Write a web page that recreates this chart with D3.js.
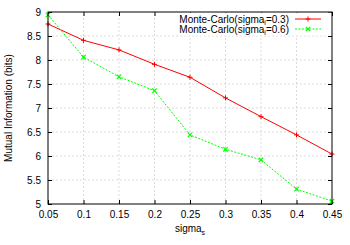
<!DOCTYPE html>
<html>
<head>
<meta charset="utf-8">
<script src="https://cdn.jsdelivr.net/npm/d3@7"></script>
<style>
  body { margin: 0; background: #fff; }
  svg { display: block; }
  text { font-family: "Liberation Sans", Arial, sans-serif; font-size: 10px; fill: #000; }
</style>
</head>
<body>
<div id="chart"></div>
<script>
// dati
const sigmaS = [0.05, 0.1, 0.15, 0.2, 0.25, 0.3, 0.35, 0.4, 0.45];
const mc03 = [8.75, 8.41, 8.21, 7.91, 7.64, 7.21, 6.82, 6.44, 6.04];
const mc06 = [8.94, 8.06, 7.65, 7.36, 6.44, 6.14, 5.92, 5.31, 5.06];
const xTicks = [0.05, 0.1, 0.15, 0.2, 0.25, 0.3, 0.35, 0.4, 0.45];
const yTicks = [5, 5.5, 6, 6.5, 7, 7.5, 8, 8.5, 9];

const width = 350, height = 245;
const margin = { top: 12, right: 18, bottom: 41, left: 48 };

const svg = d3.select("#chart").append("svg")
  .attr("width", width)
  .attr("height", height);

const x = d3.scaleLinear().domain([0.05, 0.45]).range([margin.left, width - margin.right]);
const y = d3.scaleLinear().domain([5, 9]).range([height - margin.bottom, margin.top]);

// griglia tratteggiata
const grid = svg.append("g").attr("stroke", "#cccccc").attr("stroke-width", 0.7).attr("stroke-dasharray", "2,2");
grid.selectAll(".gx").data(xTicks.slice(1, -1)).enter().append("line")
  .attr("x1", d => x(d)).attr("x2", d => x(d))
  .attr("y1", y(5)).attr("y2", y(9));
grid.selectAll(".gy").data(yTicks.slice(1, -1)).enter().append("line")
  .attr("x1", x(0.05)).attr("x2", x(0.45))
  .attr("y1", d => y(d)).attr("y2", d => y(d));

// assi con tacche interne
const tk = 4;
svg.append("g").attr("transform", `translate(0,${y(5)})`)
  .call(d3.axisBottom(x).tickValues(xTicks).tickSizeInner(-tk).tickSizeOuter(0).tickPadding(7).tickFormat(d3.format("")))
  .call(g => g.select(".domain").remove());
svg.append("g").attr("transform", `translate(0,${y(9)})`)
  .call(d3.axisTop(x).tickValues(xTicks).tickSizeInner(-tk).tickSizeOuter(0).tickFormat(""))
  .call(g => g.select(".domain").remove());
svg.append("g").attr("transform", `translate(${x(0.05)},0)`)
  .call(d3.axisLeft(y).tickValues(yTicks).tickSizeInner(-tk).tickSizeOuter(0).tickPadding(7).tickFormat(d3.format("")))
  .call(g => g.select(".domain").remove());
svg.append("g").attr("transform", `translate(${x(0.45)},0)`)
  .call(d3.axisRight(y).tickValues(yTicks).tickSizeInner(-tk).tickSizeOuter(0).tickFormat(""))
  .call(g => g.select(".domain").remove());
svg.selectAll(".tick text").style("font-size", "10px").style("font-family", "Liberation Sans, Arial, sans-serif");
svg.selectAll(".tick line").attr("stroke", "#000");

// legenda con sfondo bianco
const leg = svg.append("g");
leg.append("rect").attr("x", 180).attr("y", y(9) + 0.5).attr("width", x(0.45) - 180.5).attr("height", 23).attr("fill", "#fff");

// linee
const line = d3.line().x((d, i) => x(sigmaS[i])).y(d => y(d));
svg.append("path").datum(mc03).attr("fill", "none").attr("stroke", "#f00").attr("stroke-width", 1).attr("d", line);
svg.append("path").datum(mc06).attr("fill", "none").attr("stroke", "#0f0").attr("stroke-width", 1).attr("stroke-dasharray", "2,1.5").attr("d", line);

// marcatori
function plus(g, cx, cy, col) {
  g.append("path").attr("d", `M${cx - 2.5},${cy}H${cx + 2.5}M${cx},${cy - 2.5}V${cy + 2.5}`).attr("stroke", col).attr("stroke-width", 1);
}
function cross(g, cx, cy, col) {
  g.append("path").attr("d", `M${cx - 2.2},${cy - 2.2}L${cx + 2.2},${cy + 2.2}M${cx - 2.2},${cy + 2.2}L${cx + 2.2},${cy - 2.2}`).attr("stroke", col).attr("stroke-width", 1.2);
}
const marks = svg.append("g");
mc03.forEach((v, i) => plus(marks, x(sigmaS[i]), y(v), "#f00"));
mc06.forEach((v, i) => cross(marks, x(sigmaS[i]), y(v), "#0f0"));

// bordo
svg.append("rect").attr("x", x(0.05)).attr("y", y(9)).attr("width", x(0.45) - x(0.05)).attr("height", y(5) - y(9))
  .attr("fill", "none").attr("stroke", "#000").attr("stroke-width", 1);

// voci legenda
const legItems = [
  { sub: "i", val: "=0.3)", col: "#f00", dash: null, mk: plus },
  { sub: "i", val: "=0.6)", col: "#0f0", dash: "2,1.5", mk: cross }
];
legItems.forEach((it, i) => {
  const ly = 19 + i * 10;
  const t = leg.append("text").attr("x", 289).attr("y", ly + 3.5).attr("text-anchor", "end");
  t.append("tspan").text("Monte-Carlo(sigma");
  t.append("tspan").attr("dy", 2.5).style("font-size", "7px").text(it.sub);
  t.append("tspan").attr("dy", -2.5).text(it.val);
  leg.append("line").attr("x1", 295).attr("x2", 321).attr("y1", ly).attr("y2", ly)
    .attr("stroke", it.col).attr("stroke-dasharray", it.dash);
  it.mk(leg, 308, ly, it.col);
});

// etichette assi
svg.append("text").attr("transform", `translate(12,${(y(5) + y(9)) / 2}) rotate(-90)`)
  .attr("text-anchor", "middle").text("Mutual Information (bits)");
const xl = svg.append("text").attr("x", 190).attr("y", 232).attr("text-anchor", "middle");
xl.append("tspan").text("sigma");
xl.append("tspan").attr("dy", 2.5).style("font-size", "7px").text("s");
</script>
</body>
</html>
